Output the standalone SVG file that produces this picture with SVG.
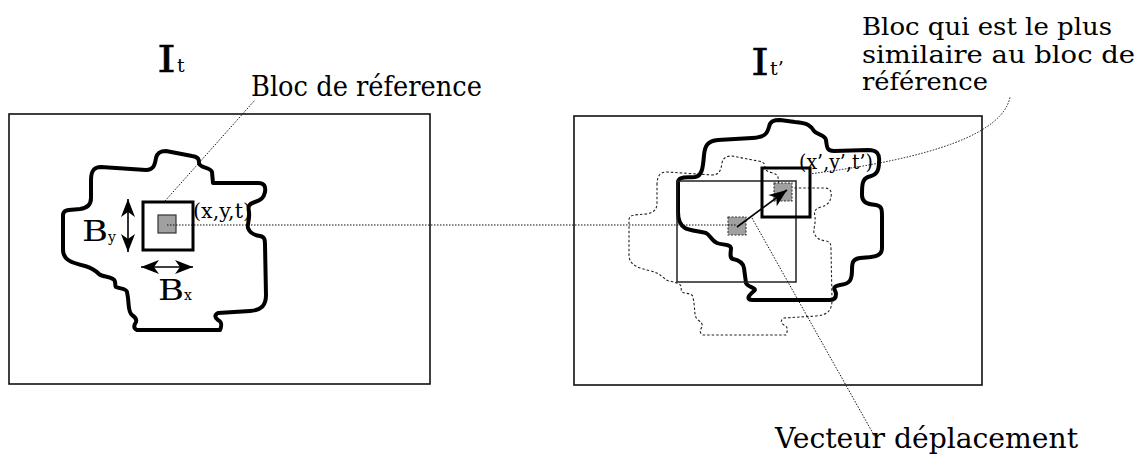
<svg xmlns="http://www.w3.org/2000/svg" xmlns:xlink="http://www.w3.org/1999/xlink" width="1142" height="468" viewBox="0 0 1142 468">
<style>
text{font-family:"DejaVu Serif","Liberation Serif",serif;fill:#000}
.lbl{font-size:27px}
.lbl2{font-size:25px}
.big{font-size:38px;stroke:#000;stroke-width:0.4}
.sub{font-size:19px}
.coord{font-size:21px}
.bb{font-size:28px}
.ss{font-size:14px}
.frame{fill:none;stroke:#111;stroke-width:1.6}
.blob{fill:none;stroke:#000;stroke-width:4;stroke-linejoin:round}
.ghost{fill:none;stroke:#222;stroke-width:1.1;stroke-dasharray:2.5,2}
.blk{fill:none;stroke:#000;stroke-width:3}
.win{fill:none;stroke:#222;stroke-width:1.5}
.px{fill:#a0a0a0;stroke:#333;stroke-width:1.2}
.pxd{fill:#a0a0a0;stroke:#333;stroke-width:1.1;stroke-dasharray:2,1.5}
.dot{fill:none;stroke:#111;stroke-width:1;stroke-dasharray:1.5,1.5}
.arr{stroke:#000;stroke-width:1.6;fill:none}
</style>
<defs>
<marker id="ah" viewBox="-19 -8 20 16" refX="0" refY="0" markerWidth="20" markerHeight="16" markerUnits="userSpaceOnUse" orient="auto-start-reverse">
<path d="M0,0 L-18,-7 L-13,0 L-18,7 Z" fill="#000"/>
</marker>
<path id="blobL" d="M 91,180 C 91,171 94,167 101,167 L 146,170 C 154,170 155,164 156,158 C 157,153 160,151 166,151 L 192,156 C 199,157 199,160 199,163 C 199,168 211,167 212,172 L 213,183 L 258,183 C 264,183 266,186 265,192 C 264,197 262,200 255,202 C 248,204 248,207 249,212 C 250,218 247,225 248,228 C 250,233 253,235 260,236 C 265,237 265,240 265,245 L 266,295 C 266,305 262,310 250,311 L 218,313 C 214,315 215,318 218,320 C 222,322 222,325 220,330 L 137,330 C 133,328 134,325 136,322 C 137,319 135,317 132,315 C 128,312 129,305 128,298 L 127,292 C 126,288 120,289 116,287 C 114,285 117,281 113,279 C 108,276 102,277 99,274 C 95,270 92,268 85,266 C 72,263 63,260 63,250 L 63,215 C 63,209 70,210 80,209 C 88,208 91,204 91,198 Z"/>
</defs>

<g id="frame-left">
<rect class="frame" x="9" y="114" width="421" height="270"/>
</g>
<g id="frame-right">
<rect class="frame" x="574" y="116" width="408" height="269"/>
</g>

<g id="title-left">
<text class="big" x="157" y="72" textLength="19" lengthAdjust="spacingAndGlyphs">I</text>
<text class="sub" x="177" y="72">t</text>
</g>
<g id="title-right">
<text class="big" x="751" y="75" textLength="18" lengthAdjust="spacingAndGlyphs">I</text>
<text class="sub" x="770" y="75">t’</text>
</g>

<g id="object-left">
<use xlink:href="#blobL" class="blob"/>
</g>
<g id="object-right-original">
<use xlink:href="#blobL" class="ghost" transform="translate(566,5)"/>
</g>
<g id="object-right">
<path class="blob" d="M 678,182 C 679,176 686,178 695,177 C 702,176 703,168 704,155 C 705,145 708,141 718,140 L 752,138 C 765,137 767,134 769,127 C 770,121 774,120 780,120 L 795,122 C 808,123 811,126 814,131 C 817,135 825,134 826,140 C 827,146 826,151 834,151 L 868,150 C 877,150 880,154 879,162 C 879,172 876,175 868,177 C 862,179 862,186 862,195 C 862,202 866,204 876,205 C 882,206 882,210 882,216 L 882,248 C 882,256 876,257 860,258 C 853,259 852,262 852,270 C 852,280 850,284 840,285 C 830,287 836,290 836,294 C 836,298 834,300 830,300 L 753,300 C 745,300 749,295 754,291 C 758,288 747,287 746,283 L 744,268 C 743,262 738,260 733,259 C 729,258 731,252 731,248 C 730,244 722,245 717,243 C 712,241 710,235 706,233 C 700,231 690,231 685,228 C 680,225 678,220 678,212 Z"/>
</g>

<g id="search-window">
<rect class="win" x="677" y="181" width="119" height="101"/>
</g>

<g id="block-ref">
<rect class="blk" x="143" y="202" width="50" height="48"/>
<rect class="px" x="158" y="215" width="18" height="18"/>
</g>
<g id="block-similar">
<rect class="blk" x="762" y="168" width="48" height="49"/>
<rect class="pxd" x="774" y="183" width="18" height="18"/>
</g>
<g id="block-ref-projected">
<rect class="pxd" x="728" y="217" width="18" height="18"/>
</g>

<g id="connectors">
<line class="dot" x1="167" y1="225" x2="737" y2="225"/>
<line class="dot" x1="165" y1="201" x2="255" y2="100"/>
<path class="dot" d="M 809,174 Q 1000,150 1010,97"/>
<line class="dot" x1="752" y1="218" x2="875" y2="437"/>
<line class="arr" x1="128" y1="199" x2="128" y2="252" marker-start="url(#ah)" marker-end="url(#ah)"/>
<line class="arr" x1="141" y1="267" x2="193" y2="267" marker-start="url(#ah)" marker-end="url(#ah)"/>
<line class="arr" x1="737" y1="227" x2="787" y2="190" marker-end="url(#ah)"/>
</g>

<g id="labels">
<text class="lbl" x="251" y="96" textLength="231" lengthAdjust="spacingAndGlyphs">Bloc de réference</text>
<text class="coord" x="193" y="218" textLength="58" lengthAdjust="spacingAndGlyphs">(x,y,t)</text>
<text class="coord" x="799" y="169" textLength="74" lengthAdjust="spacingAndGlyphs">(x’,y’,t’)</text>
<text class="bb" x="82" y="241" textLength="26" lengthAdjust="spacingAndGlyphs">B</text>
<text class="ss" x="108" y="242">y</text>
<text class="bb" x="158" y="300" textLength="26" lengthAdjust="spacingAndGlyphs">B</text>
<text class="ss" x="184" y="300">x</text>
<text class="lbl2" x="862" y="35" textLength="250" lengthAdjust="spacingAndGlyphs">Bloc qui est le plus</text>
<text class="lbl2" x="862" y="63" textLength="273" lengthAdjust="spacingAndGlyphs">similaire au bloc de</text>
<text class="lbl2" x="862" y="90" textLength="126" lengthAdjust="spacingAndGlyphs">référence</text>
<text class="lbl" x="775" y="448" textLength="303" lengthAdjust="spacingAndGlyphs">Vecteur déplacement</text>
</g>
</svg>
